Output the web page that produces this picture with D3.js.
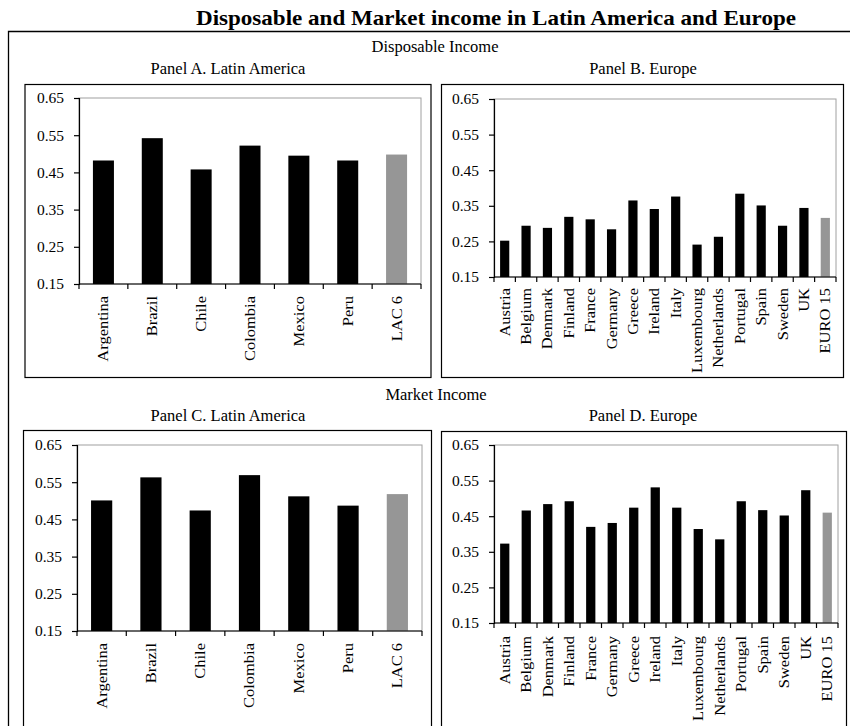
<!DOCTYPE html>
<html>
<head>
<meta charset="utf-8">
<script src="https://cdn.jsdelivr.net/npm/d3@7"></script>
<style>
  html, body { margin: 0; padding: 0; background: #fff; }
  svg { display: block; }
  text { font-family: "Liberation Serif", "Times New Roman", serif; fill: #000; }
</style>
</head>
<body>
<svg id="chart" width="850" height="726"></svg>
<script>
// ---- Data ----
const latamCountries = ["Argentina", "Brazil", "Chile", "Colombia", "Mexico", "Peru", "LAC 6"];
const latamDisposable = [0.482, 0.542, 0.458, 0.522, 0.495, 0.482, 0.498];
const latamMarket = [0.501, 0.563, 0.474, 0.569, 0.512, 0.487, 0.518];

const europeCountries = ["Austria", "Belgium", "Denmark", "Finland", "France", "Germany", "Greece",
  "Ireland", "Italy", "Luxembourg", "Netherlands", "Portugal", "Spain", "Sweden", "UK", "EURO 15"];
const europeDisposable = [0.252, 0.294, 0.288, 0.319, 0.312, 0.284, 0.365, 0.341, 0.376, 0.241,
  0.263, 0.384, 0.351, 0.294, 0.344, 0.316];
const europeMarket = [0.373, 0.466, 0.484, 0.492, 0.420, 0.431, 0.474, 0.531, 0.474, 0.414,
  0.385, 0.492, 0.467, 0.452, 0.523, 0.460];

const yTicks = [0.15, 0.25, 0.35, 0.45, 0.55, 0.65];
const yDomain = [0.15, 0.65];

const chartTitle = "Disposable and Market income in Latin America and Europe";
const sectionTitles = ["Disposable Income", "Market Income"];
const panelTitles = ["Panel A. Latin America", "Panel B. Europe", "Panel C. Latin America", "Panel D. Europe"];

// ---- Drawing ----
const svg = d3.select("#chart");

svg.append("text")
  .attr("x", 496).attr("y", 25)
  .attr("text-anchor", "middle")
  .attr("textLength", 600).attr("lengthAdjust", "spacingAndGlyphs")
  .style("font-size", "21px").style("font-weight", "bold")
  .text(chartTitle);

// outer frame
svg.append("path")
  .attr("d", "M8.5,740 V31.5 H860")
  .attr("fill", "none").attr("stroke", "#000").attr("stroke-width", 1.3);

svg.append("text").attr("x", 435).attr("y", 52).attr("text-anchor", "middle")
  .style("font-size", "16.5px").text(sectionTitles[0]);
svg.append("text").attr("x", 436).attr("y", 400).attr("text-anchor", "middle")
  .style("font-size", "16.5px").text(sectionTitles[1]);

const panels = [
  { title: panelTitles[0], tx: 228, ty: 74, box: [25, 84.5, 406, 293], plot: [79, 98, 342, 186],
    cats: latamCountries, vals: latamDisposable, labelGap: 12 },
  { title: panelTitles[1], tx: 643, ty: 74, box: [441.5, 84.5, 402, 293], plot: [494, 99, 342, 178],
    cats: europeCountries, vals: europeDisposable, labelGap: 11 },
  { title: panelTitles[2], tx: 228, ty: 421, box: [23.5, 430.5, 408, 320], plot: [77, 445, 345, 186],
    cats: latamCountries, vals: latamMarket, labelGap: 12 },
  { title: panelTitles[3], tx: 643, ty: 421, box: [441.5, 431.5, 405, 320], plot: [494, 445, 344, 178],
    cats: europeCountries, vals: europeMarket, labelGap: 13 }
];

panels.forEach(p => {
  svg.append("text").attr("x", p.tx).attr("y", p.ty).attr("text-anchor", "middle")
    .style("font-size", "16.5px").text(p.title);

  svg.append("rect")
    .attr("x", p.box[0]).attr("y", p.box[1]).attr("width", p.box[2]).attr("height", p.box[3])
    .attr("fill", "none").attr("stroke", "#000").attr("stroke-width", 1.2);

  const [px, py, pw, ph] = p.plot;
  const g = svg.append("g").attr("transform", `translate(${px},${py})`);

  const x = d3.scaleBand().domain(p.cats).range([0, pw]).paddingInner(0.57).paddingOuter(0.285);
  const y = d3.scaleLinear().domain(yDomain).range([ph, 0]);

  // plot area border (gray)
  g.append("rect").attr("x", 0).attr("y", 0).attr("width", pw).attr("height", ph)
    .attr("fill", "none").attr("stroke", "#a0a0a0").attr("stroke-width", 1);

  const last = p.cats.length - 1;
  g.selectAll("rect.bar").data(p.cats).join("rect")
    .attr("class", "bar")
    .attr("x", d => x(d))
    .attr("width", x.bandwidth())
    .attr("y", (d, i) => y(p.vals[i]))
    .attr("height", (d, i) => y(yDomain[0]) - y(p.vals[i]))
    .attr("fill", (d, i) => i === last ? "#969696" : "#000");

  // y axis
  const yAxis = g.append("g").call(d3.axisLeft(y).tickValues(yTicks).tickFormat(d3.format(".2f")).tickSize(5).tickPadding(10));
  yAxis.select(".domain").attr("stroke", "#000").attr("stroke-width", 1.2);
  yAxis.selectAll(".tick line").attr("stroke", "#000").attr("stroke-width", 1.2);
  yAxis.selectAll(".tick text").style("font-size", "15.5px")
    .style("font-family", '"Liberation Serif", "Times New Roman", serif').attr("fill", "#141428");

  // x axis: line + boundary ticks
  const xg = g.append("g").attr("transform", `translate(0,${ph})`);
  xg.append("line").attr("x1", 0).attr("x2", pw).attr("y1", 0).attr("y2", 0)
    .attr("stroke", "#000").attr("stroke-width", 1.2);
  const step = x.step();
  const bounds = d3.range(p.cats.length + 1).map(i => x(p.cats[0]) - x.paddingOuter() * step + i * step);
  xg.selectAll("line.tk").data(bounds).join("line")
    .attr("class", "tk")
    .attr("x1", d => d).attr("x2", d => d).attr("y1", 0).attr("y2", 5)
    .attr("stroke", "#000").attr("stroke-width", 1.2);

  xg.selectAll("text.cat").data(p.cats).join("text")
    .attr("class", "cat")
    .attr("transform", d => `translate(${x(d) + x.bandwidth() / 2},${p.labelGap}) rotate(-90) scale(1,0.88)`)
    .attr("text-anchor", "end")
    .attr("dy", "0.34em")
    .style("font-size", "16.5px")
    .text(d => d);
});
</script>
</body>
</html>
